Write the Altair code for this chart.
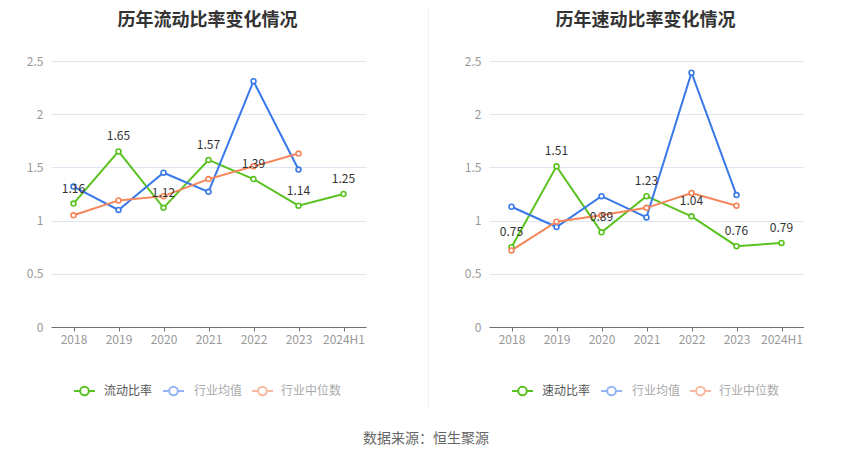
import altair as alt
import pandas as pd

years = ["2018", "2019", "2020", "2021", "2022", "2023", "2024H1"]

current_ratio = [1.16, 1.65, 1.12, 1.57, 1.39, 1.14, 1.25]
current_avg = [1.32, 1.10, 1.45, 1.27, 2.31, 1.48]
current_median = [1.05, 1.19, 1.23, 1.39, 1.51, 1.63]

quick_ratio = [0.75, 1.51, 0.89, 1.23, 1.04, 0.76, 0.79]
quick_avg = [1.13, 0.94, 1.23, 1.03, 2.39, 1.24]
quick_median = [0.72, 0.99, 1.05, 1.12, 1.26, 1.14]

FONT = "Noto Sans CJK SC"
GREEN = "#5ac220"
BLUE = "#3a79e8"
ORANGE = "#f5855a"
BLUE_L = "#93b4f5"
ORANGE_L = "#f8b9a0"

W, H = 315, 266


def long_df(main_name, main, avg, med):
    rows = []
    for name, vals in [(main_name, main), ("行业均值", avg), ("行业中位数", med)]:
        for y, v in zip(years, vals):
            rows.append({"year": y, "value": v, "series": name})
    return pd.DataFrame(rows)


def panel(title, main_name, main, avg, med, left=True):
    df = long_df(main_name, main, avg, med)
    names = [main_name, "行业均值", "行业中位数"]
    cscale = alt.Scale(domain=names, range=[GREEN, BLUE, ORANGE])
    color = alt.Color("series:N", scale=cscale, legend=None)
    stroke = alt.Stroke("series:N", scale=cscale, legend=None)
    x = alt.X("year:N", scale=alt.Scale(type="point", domain=years, padding=0.5),
              axis=alt.Axis(title=None, labelAngle=0, domainColor="#6e7079", tickColor="#6e7079",
                            tickSize=4, labelColor="#999999", labelFontSize=12, labelPadding=3,
                            grid=False, labelFont=FONT))
    y = alt.Y("value:Q", scale=alt.Scale(domain=[0, 2.5], nice=False, zero=True),
              axis=alt.Axis(title=None, values=[0, 0.5, 1, 1.5, 2, 2.5], format=".1~f",
                            domain=False, ticks=False, gridColor="#e0e6f1", labelColor="#999999",
                            labelFontSize=12, labelPadding=8, labelFont=FONT))
    base = alt.Chart(df)
    lines = base.mark_line(strokeWidth=2).encode(x=x, y=y, color=color, detail="series:N")
    pts = base.mark_point(shape="circle", size=24, strokeWidth=1.6, opacity=1).encode(
        x=x, y=y, stroke=stroke, fill=alt.value("white"))
    lab = alt.Chart(df[df["series"] == main_name]).mark_text(
        dy=-15, fontSize=12, color="#333333", font=FONT).encode(
        x=x, y=y, text=alt.Text("value:Q", format=".2f"))

    dummy = pd.DataFrame({"a": [0]})
    d = alt.Chart(dummy)
    layers = []
    if left:
        layers.append(d.mark_rule(color="white", strokeWidth=0.01).encode(
            x=alt.value(-42), x2=alt.value(-41), y=alt.value(-52)))
    layers += [lines, pts, lab]
    layers.append(d.mark_text(text=title, fontSize=18, fontWeight="bold", color="#333333",
                              font=FONT, baseline="top", align="center").encode(
        x=alt.value(W / 2 - 1), y=alt.value(-49)))
    items = [(names[0], GREEN, "#555555", 23, 53),
             (names[1], BLUE_L, "#aaaaaa", 112, 143),
             (names[2], ORANGE_L, "#aaaaaa", 201, 230)]
    ly = 330
    for name, c, tc, lx, tx in items:
        layers.append(d.mark_rule(color=c, strokeWidth=2).encode(
            x=alt.value(lx), x2=alt.value(lx + 21), y=alt.value(ly)))
        layers.append(d.mark_point(shape="circle", filled=True, fill="white", stroke=c,
                                   strokeWidth=2, size=75, opacity=1).encode(
            x=alt.value(lx + 10.5), y=alt.value(ly)))
        layers.append(d.mark_text(text=name, fontSize=12, color=tc, font=FONT,
                                  align="left", baseline="middle").encode(
            x=alt.value(tx), y=alt.value(ly)))
    if left:
        layers.append(d.mark_text(text="数据来源：恒生聚源", fontSize=14, color="#666666",
                                  font=FONT, align="center", baseline="middle").encode(
            x=alt.value(375), y=alt.value(378)))
    else:
        layers.append(d.mark_rule(color="#f0f0f0", strokeWidth=1).encode(
            x=alt.value(-60.5), y=alt.value(-52), y2=alt.value(347)))
    return alt.layer(*layers).properties(width=W, height=H)


left = panel("历年流动比率变化情况", "流动比率", current_ratio, current_avg, current_median, True)
right = panel("历年速动比率变化情况", "速动比率", quick_ratio, quick_avg, quick_median, False)

chart = alt.hconcat(left, right, spacing=123, bounds="flush").properties(
    padding=0
).configure(font=FONT, view=alt.ViewConfig(stroke=None))

chart.save("out.html", embed_options={"renderer": "svg", "actions": False})
